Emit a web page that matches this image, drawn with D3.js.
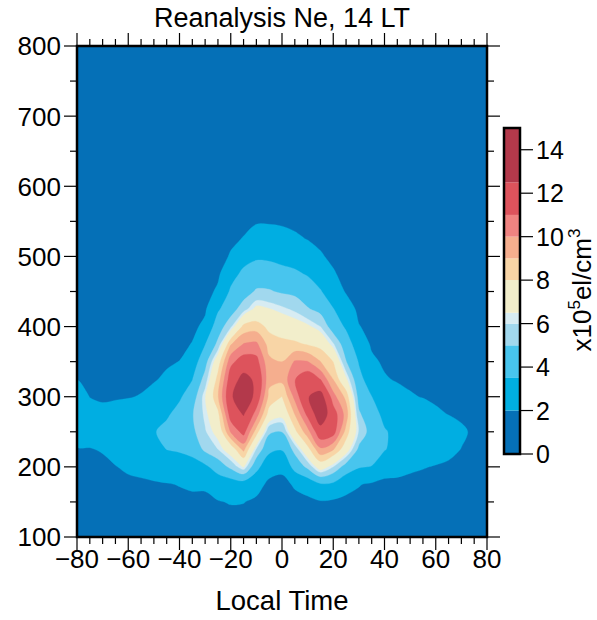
<!DOCTYPE html>
<html><head><meta charset="utf-8">
<script src="https://cdn.jsdelivr.net/npm/d3@7"></script>
<style>
body{margin:0;background:#fff}
svg{display:block}
text{font-family:"Liberation Sans",Arial,Helvetica,sans-serif;fill:#000}
</style>
</head><body>
<svg id="chart" width="597" height="620"></svg>
<script>
// ---------- data ----------
const lats = [-80,-75,-70,-65,-60,-55,-50,-45,-40,-35,-30,-25,-20,-15,-10,-5,0,5,10,15,20,25,30,35,40,45,50,55,60,65,70,75,80];
const alts = [100,125,150,175,200,225,250,275,300,325,350,375,400,425,450,475,500,525,550,575,600,625,650,675,700,725,750,775,800];
// Ne (x10^5 el/cm^3), one column per latitude, values at alts (bottom -> top)
const neByLat = [
/* -80 */ [1.0,1.2,1.4,1.6,1.8,1.95,2.4,2.7,2.5,1.98,1.7,1.5,1.35,1.25,1.15,1.05,0.95,0.9,0.85,0.8,0.75,0.7,0.65,0.6,0.55,0.5,0.5,0.45,0.45],
/* -75 */ [1.0,1.2,1.4,1.6,1.8,1.97,2.3,2.4,1.98,1.75,1.6,1.45,1.3,1.2,1.1,1.0,0.95,0.9,0.85,0.8,0.75,0.7,0.65,0.6,0.55,0.5,0.5,0.45,0.45],
/* -70 */ [1.05,1.25,1.45,1.65,1.85,2.05,2.4,2.3,1.85,1.65,1.5,1.4,1.3,1.2,1.1,1.0,0.95,0.9,0.85,0.8,0.75,0.7,0.65,0.6,0.55,0.5,0.5,0.45,0.45],
/* -65 */ [1.1,1.3,1.5,1.75,1.97,2.3,2.5,2.4,1.9,1.7,1.55,1.4,1.3,1.2,1.1,1.0,0.95,0.9,0.85,0.8,0.75,0.7,0.65,0.6,0.55,0.5,0.5,0.45,0.45],
/* -60 */ [1.15,1.35,1.6,1.8,2.15,2.5,2.7,2.5,1.95,1.75,1.6,1.45,1.35,1.25,1.15,1.05,1.0,0.95,0.9,0.85,0.8,0.75,0.7,0.65,0.6,0.55,0.5,0.5,0.45],
/* -55 */ [1.2,1.4,1.65,1.85,2.25,2.65,2.9,2.7,2.05,1.8,1.6,1.45,1.35,1.25,1.15,1.05,1.0,0.95,0.9,0.85,0.8,0.75,0.7,0.65,0.6,0.55,0.5,0.5,0.45],
/* -50 */ [1.2,1.45,1.7,1.9,2.4,3.0,3.4,3.2,2.4,1.9,1.7,1.5,1.4,1.3,1.2,1.1,1.0,0.95,0.9,0.85,0.8,0.75,0.7,0.65,0.6,0.55,0.5,0.5,0.45],
/* -45 */ [1.25,1.5,1.75,1.95,2.6,3.52,3.9,3.3,2.8,2.2,1.85,1.6,1.45,1.35,1.25,1.15,1.05,1.0,0.95,0.9,0.85,0.8,0.75,0.7,0.65,0.6,0.55,0.5,0.5],
/* -40 */ [1.3,1.55,1.8,2.03,2.8,3.65,4.2,4.0,3.3,2.6,2.02,1.7,1.5,1.4,1.3,1.2,1.1,1.0,0.95,0.9,0.85,0.8,0.75,0.7,0.65,0.6,0.55,0.5,0.5],
/* -35 */ [1.35,1.6,1.85,2.1,3.0,3.9,4.7,4.9,4.3,3.45,2.7,2.05,1.75,1.55,1.45,1.3,1.2,1.1,1.0,0.95,0.9,0.85,0.8,0.75,0.7,0.65,0.6,0.55,0.5],
/* -30 */ [1.4,1.65,1.85,2.1,3.2,5.3,5.9,6.2,6.45,5.5,4.5,3.45,2.25,1.85,1.6,1.45,1.3,1.2,1.1,1.0,0.95,0.9,0.85,0.8,0.75,0.7,0.65,0.6,0.55],
/* -25 */ [1.45,1.7,1.95,2.5,4.2,6.0,6.9,7.7,8.9,8.4,7.4,5.3,4.3,3.3,2.2,1.8,1.6,1.45,1.3,1.2,1.1,1.0,0.95,0.9,0.85,0.8,0.75,0.7,0.65],
/* -20 */ [1.5,1.75,2.05,2.6,5.3,7.2,10.1,11.6,12.2,11.7,10.7,8.9,5.8,4.4,3.7,3.0,2.1,1.8,1.6,1.45,1.3,1.2,1.1,1.0,0.95,0.9,0.85,0.8,0.75],
/* -15 */ [1.55,1.8,2.02,2.7,6.6,9.3,11.4,12.6,14.0,13.0,11.6,10.05,8.3,5.6,4.4,3.8,3.0,2.05,1.75,1.55,1.4,1.3,1.2,1.1,1.0,0.95,0.9,0.85,0.8],
/* -10 */ [1.5,1.7,1.88,2.25,4.0,5.9,8.5,10.5,11.9,12.2,11.4,10.2,8.5,6.8,5.15,4.2,3.3,2.5,1.9,1.65,1.5,1.35,1.25,1.15,1.05,1.0,0.95,0.9,0.85],
/*  -5 */ [1.4,1.55,1.7,1.85,2.3,3.9,5.2,7.5,8.7,9.3,9.2,8.6,7.7,6.55,5.1,4.3,3.2,2.5,1.9,1.65,1.5,1.35,1.25,1.15,1.05,1.0,0.95,0.9,0.85],
/*   0 */ [1.35,1.5,1.65,1.75,2.2,3.6,5.02,6.9,7.98,9.3,9.0,8.3,7.4,6.2,4.85,3.9,3.1,2.4,1.85,1.6,1.45,1.35,1.25,1.15,1.05,1.0,0.95,0.9,0.85],
/*   5 */ [1.4,1.55,1.75,2.1,4.0,5.4,7.7,9.02,10.3,10.95,10.1,8.2,7.1,5.8,4.7,3.7,3.0,2.15,1.8,1.6,1.45,1.35,1.25,1.15,1.05,1.0,0.95,0.9,0.85],
/*  10 */ [1.45,1.6,1.8,2.4,5.3,7.6,9.6,11.3,12.4,11.8,10.05,7.9,6.7,5.1,4.2,3.4,2.5,1.97,1.75,1.55,1.45,1.35,1.25,1.15,1.05,1.0,0.95,0.9,0.85],
/*  15 */ [1.5,1.65,1.9,3.3,7.2,9.8,11.9,13.5,13.2,10.98,9.02,7.6,6.0,4.6,3.6,2.8,2.1,1.8,1.6,1.45,1.35,1.3,1.2,1.1,1.05,1.0,0.95,0.9,0.85],
/*  20 */ [1.5,1.65,1.8,3.2,6.0,9.1,11.5,11.6,10.4,8.98,7.98,6.1,4.3,3.55,2.7,2.1,1.8,1.6,1.45,1.35,1.3,1.25,1.15,1.1,1.05,1.0,0.95,0.9,0.85],
/*  25 */ [1.45,1.6,1.8,2.3,4.4,7.2,8.6,9.6,8.7,6.7,5.05,4.2,3.3,2.6,1.9,1.7,1.55,1.45,1.35,1.3,1.25,1.2,1.1,1.05,1.0,0.95,0.9,0.85,0.8],
/*  30 */ [1.4,1.55,1.75,2.05,3.6,4.7,5.9,5.2,4.5,3.9,3.4,2.7,2.05,1.75,1.6,1.5,1.4,1.35,1.3,1.25,1.2,1.15,1.1,1.05,1.0,0.95,0.9,0.85,0.8],
/*  35 */ [1.35,1.5,1.7,1.85,3.45,4.2,4.4,4.0,3.52,2.8,2.2,1.85,1.7,1.6,1.5,1.45,1.4,1.35,1.3,1.25,1.2,1.15,1.1,1.05,1.0,0.95,0.9,0.85,0.8],
/*  40 */ [1.3,1.45,1.65,1.8,2.4,3.6,3.6,3.2,2.6,2.1,1.85,1.7,1.6,1.5,1.45,1.4,1.35,1.3,1.25,1.2,1.15,1.1,1.05,1.0,0.95,0.9,0.85,0.8,0.75],
/*  45 */ [1.3,1.45,1.6,1.8,2.3,2.9,3.2,3.0,2.4,1.9,1.75,1.65,1.55,1.5,1.45,1.4,1.35,1.3,1.25,1.2,1.15,1.1,1.05,1.0,0.95,0.9,0.85,0.8,0.75],
/*  50 */ [1.25,1.4,1.55,1.75,2.15,2.6,2.85,2.7,2.1,1.8,1.65,1.55,1.5,1.45,1.4,1.35,1.3,1.25,1.2,1.15,1.1,1.05,1.0,0.95,0.9,0.85,0.8,0.75,0.7],
/*  55 */ [1.25,1.4,1.5,1.7,2.05,2.5,2.75,2.6,1.95,1.75,1.6,1.5,1.45,1.4,1.35,1.3,1.25,1.2,1.15,1.1,1.05,1.0,0.95,0.9,0.85,0.8,0.75,0.7,0.7],
/*  60 */ [1.2,1.35,1.5,1.65,1.95,2.4,2.65,2.15,1.85,1.7,1.6,1.5,1.45,1.4,1.35,1.3,1.25,1.2,1.15,1.1,1.05,1.0,0.95,0.9,0.85,0.8,0.75,0.7,0.7],
/*  65 */ [1.2,1.3,1.45,1.6,1.85,2.25,2.5,1.98,1.75,1.6,1.5,1.45,1.4,1.35,1.3,1.25,1.2,1.15,1.1,1.05,1.0,0.95,0.9,0.85,0.8,0.75,0.7,0.7,0.65],
/*  70 */ [1.15,1.25,1.4,1.55,1.75,1.98,2.15,1.85,1.7,1.55,1.45,1.4,1.35,1.3,1.25,1.2,1.15,1.1,1.05,1.0,0.95,0.9,0.85,0.8,0.75,0.7,0.7,0.65,0.65],
/*  75 */ [1.1,1.2,1.35,1.5,1.65,1.8,1.85,1.75,1.6,1.5,1.4,1.35,1.3,1.25,1.2,1.15,1.1,1.05,1.0,0.95,0.9,0.85,0.8,0.75,0.7,0.7,0.65,0.65,0.6],
/*  80 */ [1.05,1.15,1.3,1.45,1.6,1.7,1.75,1.65,1.55,1.45,1.4,1.35,1.3,1.25,1.2,1.15,1.1,1.05,1.0,0.95,0.9,0.85,0.8,0.75,0.7,0.7,0.65,0.65,0.6]
];
const levels = [0,2,3.5,5,6,6.5,8,9,10,11,12.5,15];
const levelColors = ["#0570b7","#00aee2","#48c5ee","#a1d8ee","#d7ecf3","#f2eecb","#f8d5a6","#f5ae8e","#ef8381","#dd535c","#b3394b"];
const xTicks = [-80,-60,-40,-20,0,20,40,60,80];
const yTicks = [100,200,300,400,500,600,700,800];
const cbTicks = [0,2,4,6,8,10,12,14];
const titleText = "Reanalysis Ne, 14 LT";
const xLabel = "Local Time";

// ---------- layout ----------
const svg = d3.select("#chart");
const L = 77, R = 487, T = 46, B = 537;
const x = d3.scaleLinear().domain([-80, 80]).range([L, R]);
const y = d3.scaleLinear().domain([100, 800]).range([B, T]);

svg.append("defs").append("clipPath").attr("id","plotclip")
  .append("rect").attr("x",L).attr("y",T).attr("width",R-L).attr("height",B-T);

const plot = svg.append("g").attr("clip-path","url(#plotclip)");
plot.append("rect").attr("x",L).attr("y",T).attr("width",R-L).attr("height",B-T).attr("fill",levelColors[0]);

const nx = lats.length, ny = alts.length;
const grid = new Array(nx*ny);
for (let j=0;j<ny;j++) for (let i=0;i<nx;i++) grid[j*nx+i] = neByLat[i][j];
const dLat = lats[1]-lats[0], dAlt = alts[1]-alts[0];
const toPx = p => [x(lats[0] + (p[0]-0.5)*dLat), y(alts[0] + (p[1]-0.5)*dAlt)];
const ringLine = d3.line().curve(d3.curveCatmullRomClosed.alpha(0.5));
function bandPath(mp){
  let s = "";
  mp.coordinates.forEach(poly => poly.forEach(ring => {
    const pts = ring.slice(0, -1).map(toPx);
    s += ringLine(pts);
  }));
  return s;
}
const contours = d3.contours().size([nx,ny]).thresholds(levels.slice(1,-1))(grid);
plot.selectAll("path.band").data(contours).join("path")
  .attr("class","band")
  .attr("d", bandPath)
  .attr("fill", d => levelColors[levels.indexOf(d.value)])
  .attr("stroke", d => levelColors[levels.indexOf(d.value)])
  .attr("stroke-width", 0.3);

// ---------- axes ----------
const fs = 26;
const minorX = d3.range(-80, 81, 5).filter(v => !xTicks.includes(v));
const minorY = d3.range(100, 801, 50).filter(v => !yTicks.includes(v));
const axG = svg.append("g").attr("stroke","#000").attr("stroke-width",1.2);
const MJ = 13, MN = 7;
xTicks.forEach(v => {
  axG.append("line").attr("x1",x(v)).attr("x2",x(v)).attr("y1",B).attr("y2",B+MJ);
  axG.append("line").attr("x1",x(v)).attr("x2",x(v)).attr("y1",T).attr("y2",T-MJ);
});
minorX.forEach(v => {
  axG.append("line").attr("x1",x(v)).attr("x2",x(v)).attr("y1",B).attr("y2",B+MN);
  axG.append("line").attr("x1",x(v)).attr("x2",x(v)).attr("y1",T).attr("y2",T-MN);
});
yTicks.forEach(v => {
  axG.append("line").attr("x1",L).attr("x2",L-MJ).attr("y1",y(v)).attr("y2",y(v));
  axG.append("line").attr("x1",R).attr("x2",R+MJ).attr("y1",y(v)).attr("y2",y(v));
});
minorY.forEach(v => {
  axG.append("line").attr("x1",L).attr("x2",L-MN).attr("y1",y(v)).attr("y2",y(v));
  axG.append("line").attr("x1",R).attr("x2",R+MN).attr("y1",y(v)).attr("y2",y(v));
});
svg.append("rect").attr("x",L).attr("y",T).attr("width",R-L).attr("height",B-T)
  .attr("fill","none").attr("stroke","#000").attr("stroke-width",2.5);

svg.append("g").selectAll("text").data(xTicks).join("text")
  .attr("x", d => x(d)).attr("y", 568).attr("text-anchor","middle")
  .attr("font-size", fs).text(d => d < 0 ? "\u2212" + Math.abs(d) : d);
svg.append("g").selectAll("text").data(yTicks).join("text")
  .attr("x", L-16).attr("y", d => y(d)).attr("dy","0.36em").attr("text-anchor","end")
  .attr("font-size", fs).text(d => d);

svg.append("text").attr("x",(L+R)/2).attr("y",27).attr("text-anchor","middle")
  .attr("font-size",27).text(titleText);
svg.append("text").attr("x",(L+R)/2).attr("y",610).attr("text-anchor","middle")
  .attr("font-size",27.5).text(xLabel);

// ---------- colorbar ----------
const cbX = 504, cbW = 16, cbTop = 128, cbBot = 454;
const cb = d3.scaleLinear().domain([levels[0], levels[levels.length-1]]).range([cbBot, cbTop]);
const cbG = svg.append("g");
cbG.selectAll("rect.cb").data(levelColors).join("rect").attr("class","cb")
  .attr("x",cbX).attr("width",cbW)
  .attr("y",(d,i) => cb(levels[i+1])).attr("height",(d,i) => cb(levels[i]) - cb(levels[i+1]))
  .attr("fill", d => d);
cbG.append("rect").attr("x",cbX).attr("y",cbTop).attr("width",cbW).attr("height",cbBot-cbTop)
  .attr("fill","none").attr("stroke","#000").attr("stroke-width",2.5);
cbG.selectAll("line").data(cbTicks).join("line")
  .attr("x1",cbX+cbW).attr("x2",cbX+cbW+13).attr("y1",d=>cb(d)).attr("y2",d=>cb(d))
  .attr("stroke","#000").attr("stroke-width",1.2);
cbG.selectAll("text").data(cbTicks).join("text")
  .attr("x",cbX+cbW+16).attr("y",d=>cb(d)).attr("dy","0.36em")
  .attr("font-size",25).text(d=>d);
const lab = svg.append("text").attr("transform","translate(591,290) rotate(-90)")
  .attr("text-anchor","middle").attr("font-size",26);
lab.append("tspan").text("x10");
lab.append("tspan").attr("font-size",17).attr("dy",-11).text("5");
lab.append("tspan").attr("dy",11).text("el/cm");
lab.append("tspan").attr("font-size",17).attr("dy",-11).text("3");
</script>
</body></html>
